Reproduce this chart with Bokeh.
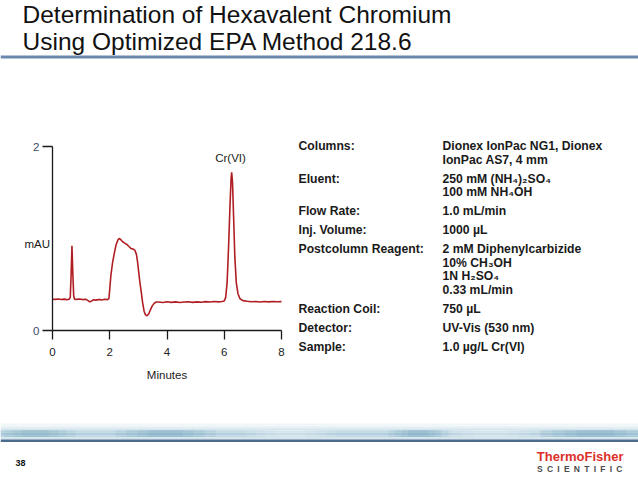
from bokeh.plotting import figure
from bokeh.models import Label, BoxAnnotation, FixedTicker, Range1d
from bokeh.embed import file_html
from bokeh.resources import INLINE

# ---------------- data ----------------
title_lines = ["Determination of Hexavalent Chromium", "Using Optimized EPA Method 218.6"]

minutes = [0.00, 0.10, 0.20, 0.30, 0.40, 0.50, 0.58, 0.62, 0.65, 0.68, 0.71, 0.74, 0.77,
           0.85, 0.95, 1.05, 1.15, 1.22, 1.30, 1.36, 1.42, 1.52, 1.62, 1.72, 1.82, 1.92,
           1.97, 2.00, 2.04, 2.10, 2.16, 2.22, 2.28, 2.33, 2.38, 2.45, 2.52, 2.60, 2.68,
           2.75, 2.82, 2.88, 2.93, 2.97, 3.01, 3.05, 3.10, 3.15, 3.20, 3.25, 3.30, 3.36,
           3.42, 3.48, 3.55, 3.62, 3.70, 3.85, 4.00, 4.15, 4.30, 4.45, 4.60, 4.75, 4.90,
           5.05, 5.20, 5.35, 5.50, 5.65, 5.80, 5.92, 6.00, 6.05, 6.10, 6.15, 6.20, 6.24,
           6.26, 6.29, 6.33, 6.37, 6.42, 6.48, 6.55, 6.65, 6.80, 6.95, 7.10, 7.25, 7.40,
           7.55, 7.70, 7.85, 8.00]
mau = [0.340, 0.338, 0.343, 0.337, 0.341, 0.336, 0.340, 0.360, 0.600, 0.920, 0.620, 0.380, 0.340,
       0.338, 0.342, 0.336, 0.340, 0.330, 0.312, 0.318, 0.334, 0.330, 0.338, 0.332, 0.340, 0.336,
       0.345, 0.450, 0.600, 0.740, 0.840, 0.930, 0.980, 1.000, 0.990, 0.965, 0.950, 0.935, 0.910,
       0.890, 0.885, 0.870, 0.830, 0.750, 0.640, 0.530, 0.420, 0.300, 0.210, 0.170, 0.160, 0.180,
       0.225, 0.265, 0.295, 0.310, 0.310, 0.305, 0.312, 0.306, 0.311, 0.304, 0.309, 0.313, 0.306,
       0.311, 0.307, 0.314, 0.309, 0.315, 0.311, 0.316, 0.320, 0.360, 0.520, 0.900, 1.350, 1.660,
       1.720, 1.600, 1.200, 0.800, 0.520, 0.400, 0.345, 0.325, 0.318, 0.312, 0.316, 0.310, 0.315,
       0.311, 0.316, 0.312, 0.314]

x_ticks = [0, 2, 4, 6, 8]
y_ticks = [0, 2]
peak_name = "Cr(VI)"

param_labels = ["Columns:", "Eluent:", "Flow Rate:", "Inj. Volume:", "Postcolumn Reagent:",
                "Reaction Coil:", "Detector:", "Sample:"]
param_values = [["Dionex IonPac NG1, Dionex", "IonPac AS7, 4 mm"],
                ["250 mM (NH\u2084)\u2082SO\u2084", "100 mM NH\u2084OH"],
                ["1.0 mL/min"],
                ["1000 \u00b5L"],
                ["2 mM Diphenylcarbizide", "10% CH\u2083OH", "1N H\u2082SO\u2084", "0.33 mL/min"],
                ["750 \u00b5L"],
                ["UV-Vis (530 nm)"],
                ["1.0 \u00b5g/L Cr(VI)"]]
slide_number = "38"

# ---------------- layout ----------------
W, H = 638, 479
FL, FR, FT, FB = 52, 281, 146, 330   # chart area edges in page pixels
PX_PER_MIN = (FR - FL) / 8.0
PX_PER_MAU = (FB - FT) / 2.0


def X(px):
    return (px - FL) / PX_PER_MIN


def Y(py):
    return (FB - py) / PX_PER_MAU


FONT = "Liberation Sans"

p = figure(width=W, height=H, output_backend="svg", toolbar_location=None,
           x_range=Range1d(X(0), X(W)), y_range=Range1d(Y(H), Y(0)),
           min_border=0)
p.outline_line_color = None
p.grid.visible = False
p.background_fill_color = "white"
p.border_fill_color = "white"

p.line(minutes, mau, line_color="#b01e23", line_width=1.6)

for ax in (p.xaxis[0], p.yaxis[0]):
    ax.fixed_location = 0
    ax.axis_line_color = "#1a1a1a"
    ax.axis_line_width = 1.3
    ax.major_tick_line_color = "#1a1a1a"
    ax.major_tick_line_width = 1.3
    ax.major_tick_in = 0
    ax.minor_tick_line_color = None
    ax.major_label_text_font = FONT
    ax.major_label_text_font_size = "11.5px"
    ax.major_label_text_color = "#222222"

p.xaxis.bounds = (0, 8)
p.yaxis.bounds = (0, 2)
p.xaxis.ticker = FixedTicker(ticks=x_ticks)
p.yaxis.ticker = FixedTicker(ticks=y_ticks)
p.xaxis.major_tick_out = 9
p.yaxis.major_tick_out = 10
p.xaxis.major_label_standoff = 8
p.yaxis.major_label_standoff = 3
p.yaxis.major_label_text_color = "#3b4a6b"
p.xaxis.axis_label = "Minutes"
p.xaxis.axis_label_text_font = FONT
p.xaxis.axis_label_text_font_size = "11.5px"
p.xaxis.axis_label_text_font_style = "normal"
p.xaxis.axis_label_text_color = "#222222"
p.xaxis.axis_label_standoff = 10


def label(px, py, text, size="11.5px", style="normal", color="#1a1a1a", align="left", font=FONT):
    p.add_layout(Label(x=X(px), y=Y(py), text=text, text_font=font, text_font_size=size,
                       text_font_style=style, text_color=color, text_align=align,
                       text_baseline="middle"))


def box(px0, px1, py0, py1, color, alpha=1.0):
    p.add_layout(BoxAnnotation(left=X(px0), right=X(px1), top=Y(py0), bottom=Y(py1),
                               fill_color=color, fill_alpha=alpha, line_color=None,
                               level="underlay"))


# title
for i, t in enumerate(title_lines):
    label(22, 13.5 + i * 27, t, size="24.5px", color="#111111")
box(0, W, 55, 58, "#6a88ab")

# chart annotations
label(24, 243, "mAU")
label(230, 157, peak_name, align="center")

# parameter table
row_y = 145.5
for lab, vals in zip(param_labels, param_values):
    label(298, row_y, lab, size="12.2px", style="bold")
    for j, v in enumerate(vals):
        label(442, row_y + j * 13.5, v, size="12.2px", style="bold")
    row_y += (len(vals) - 1) * 13.5 + 19.0

# footer band: soft vertical gradient built from thin strips
band_rows = [(423, 426, "#f1f6f9"), (426, 428, "#e3eef3"), (428, 430, "#d2e4ec"),
             (430, 432, "#c0d8e4"), (432, 435, "#b2cfdd"), (435, 437, "#bdd6e2"),
             (437, 439, "#d3e3eb")]
for y0, y1, c in band_rows:
    box(0, W, y0, y1, c)
# softly-edged darker / lighter streaks (nested boxes fade the edges)
for cx, half, c in [(35, 40, "#5e9fb0"), (165, 50, "#5a8fb0"), (290, 45, "#ffffff"),
                    (418, 30, "#5a8fb0"), (490, 50, "#ffffff"), (595, 55, "#5a8fb0")]:
    for k in range(4):
        w = half * (1 - 0.22 * k)
        box(cx - w, cx + w, 429.5, 436.5, c, 0.1)
box(0, W, 439, 441.5, "#4d6b8c")

label(15, 462, slide_number, size="9px", style="bold", color="#111111")
label(623, 456, "ThermoFisher", size="13px", style="bold", color="#dc2f29", align="right")
label(622, 468, "S\u2002C\u2002I\u2002E\u2002N\u2002T\u2002I\u2002F\u2002I\u2002C", size="8.5px",
      style="bold", color="#4a4a4a", align="right")

open("out.html", "w").write(file_html(p, INLINE))
